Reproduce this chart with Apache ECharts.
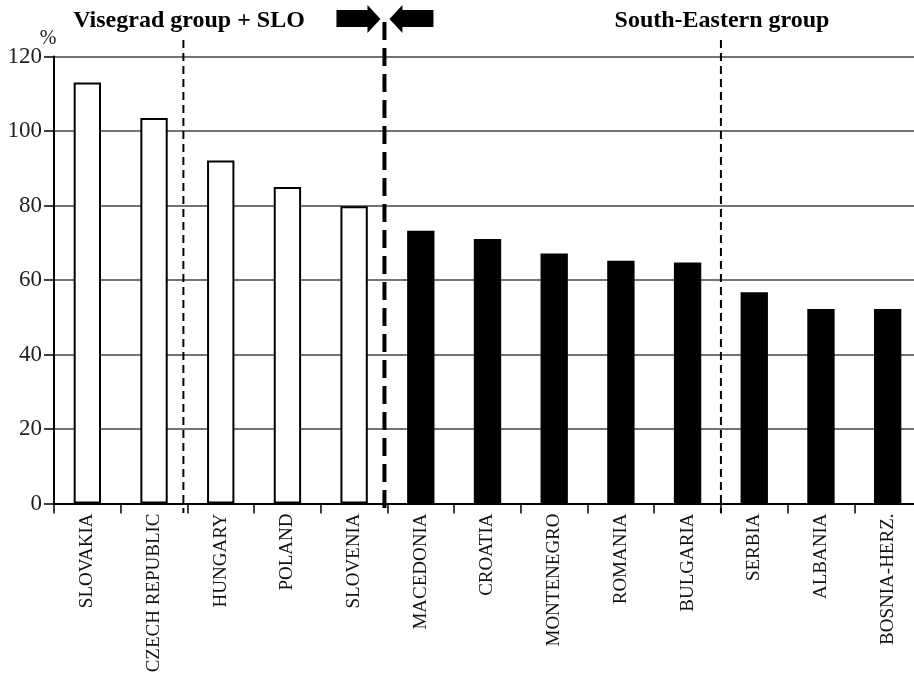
<!DOCTYPE html>
<html>
<head>
<meta charset="utf-8">
<script src="https://cdn.jsdelivr.net/npm/echarts@6/dist/echarts.min.js"></script>
<style>
  html, body { margin: 0; padding: 0; background: #fff; }
  #chart { width: 914px; height: 674px; }
</style>
</head>
<body>
<div id="chart"></div>
<script>
// countries, left to right
var countries = ['SLOVAKIA', 'CZECH REPUBLIC', 'HUNGARY', 'POLAND', 'SLOVENIA',
  'MACEDONIA', 'CROATIA', 'MONTENEGRO', 'ROMANIA', 'BULGARIA',
  'SERBIA', 'ALBANIA', 'BOSNIA-HERZ.'];
// values in %
var values = [113.0, 103.5, 92.1, 85.0, 79.8, 73.2, 71.0, 67.1, 65.2, 64.7, 56.7, 52.2, 52.2];
// 'V' = Visegrad group + SLO, 'SE' = South-Eastern group
var groups = ['V', 'V', 'V', 'V', 'V', 'SE', 'SE', 'SE', 'SE', 'SE', 'SE', 'SE', 'SE'];
var yTicks = [0, 20, 40, 60, 80, 100, 120];
var groupTitles = ['Visegrad group + SLO', 'South-Eastern group'];

var serif = '"Liberation Serif", "DejaVu Serif", serif';
var chart = echarts.init(document.getElementById('chart'));

var barData = values.map(function (v, i) {
  var white = groups[i] === 'V';
  return {
    value: v,
    itemStyle: {
      color: white ? '#fff' : '#000',
      borderColor: '#000',
      borderWidth: white ? 2 : 0
    }
  };
});

var option = {
  backgroundColor: '#fff',
  animation: false,
  // plot runs a little past the right edge of the picture
  grid: { left: 54, width: 867, top: 56.5, bottom: 170.5, outerBoundsMode: 'none' },
  xAxis: [
    {
      type: 'category',
      data: countries,
      axisLine: { lineStyle: { color: '#000', width: 2 } },
      axisTick: { show: true, alignWithLabel: false, interval: 0, length: 10,
        lineStyle: { color: '#000', width: 1.5 } },
      axisLabel: {
        rotate: 90,
        margin: 10,
        interval: 0,
        color: '#111',
        fontFamily: serif,
        fontSize: 19
      }
    },
    {
      // helper axis used only to place the group separators
      type: 'value',
      min: 0,
      max: countries.length,
      show: false
    }
  ],
  yAxis: {
    type: 'value',
    min: yTicks[0],
    max: yTicks[yTicks.length - 1],
    interval: 20,
    axisLine: { show: true, lineStyle: { color: '#000', width: 2 } },
    axisTick: { show: true, length: 10, lineStyle: { color: '#000', width: 1.5 } },
    axisLabel: { margin: 12, color: '#222', fontFamily: serif, fontSize: 23 },
    splitLine: { lineStyle: { color: '#444', width: 1.5 } }
  },
  series: [
    {
      type: 'bar',
      barWidth: '41%',
      data: barData
    }
  ]
};
chart.setOption(option);

// separators between groups (category boundaries 2, 5, 10)
var xa = chart.convertToPixel({ xAxisIndex: 1 }, 2);
var xb = chart.convertToPixel({ xAxisIndex: 1 }, 5);
var xc = chart.convertToPixel({ xAxisIndex: 1 }, 10);

function dashed(x, y1, y2, w, dash) {
  return {
    type: 'line',
    shape: { x1: x, y1: y1, x2: x, y2: y2 },
    style: { stroke: '#000', lineWidth: w, lineDash: dash },
    z: 10
  };
}

function arrow(tipX, dir) {
  // dir = 1 points right, -1 points left
  var head = tipX - dir * 13, tail = tipX - dir * 44;
  return {
    type: 'polygon',
    shape: {
      points: [[tail, 10], [head, 10], [head, 5], [tipX, 19], [head, 33], [head, 27], [tail, 27]]
    },
    style: { fill: '#000' },
    z: 10
  };
}

chart.setOption({
  graphic: [
    dashed(xa - 4, 40, 513, 2, [8, 5]),
    dashed(xb - 3, 22, 515, 4, [18, 8]),
    dashed(xc, 40, 513, 2, [8, 5]),
    arrow(xb - 7, 1),
    arrow(xb + 2, -1),
    {
      type: 'text',
      x: 189, y: 9,
      style: {
        text: groupTitles[0], fill: '#000', align: 'center',
        font: 'bold 24px ' + serif
      }
    },
    {
      type: 'text',
      x: 722, y: 9,
      style: {
        text: groupTitles[1], fill: '#000', align: 'center',
        font: 'bold 24px ' + serif
      }
    },
    {
      type: 'text',
      x: 48, y: 29,
      style: { text: '%', fill: '#222', align: 'center', font: '20px ' + serif }
    }
  ]
});
</script>
</body>
</html>
